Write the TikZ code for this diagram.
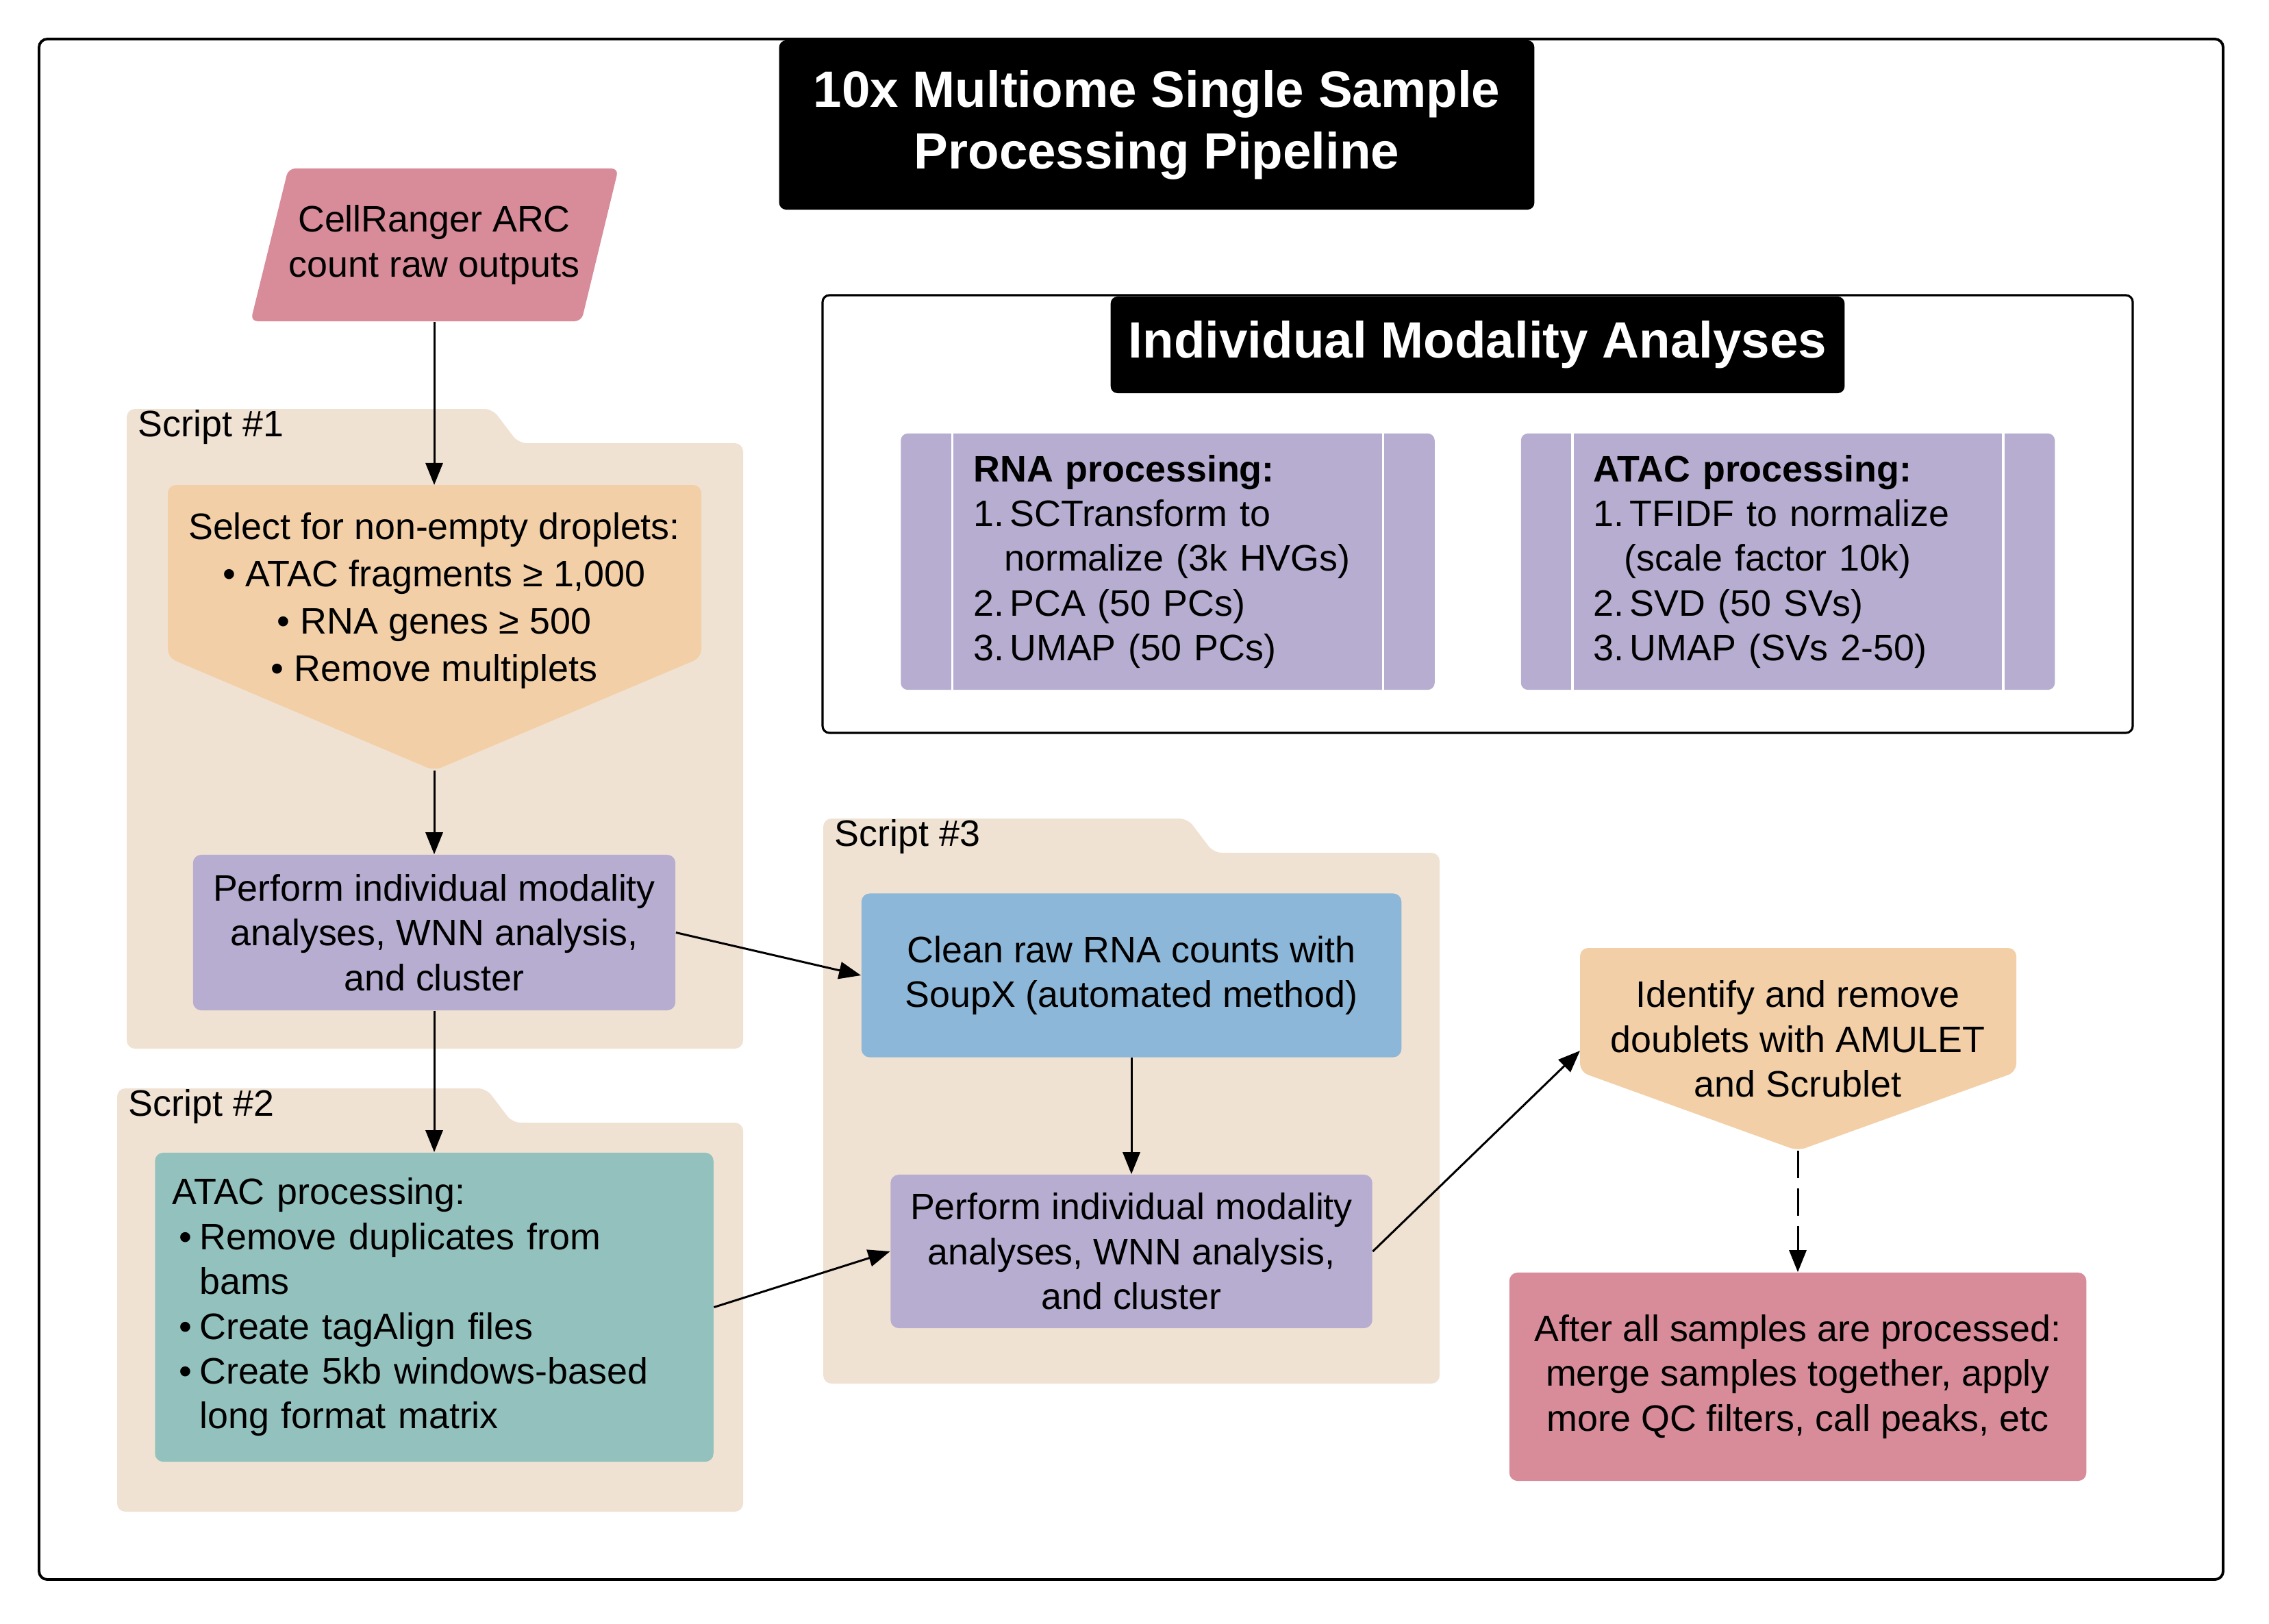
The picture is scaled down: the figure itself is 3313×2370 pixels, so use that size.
\documentclass[tikz,border=0pt]{standalone}
\usepackage{fontspec}
\setmainfont{Liberation Sans}
\usetikzlibrary{arrows.meta}

\definecolor{rosepink}{RGB}{216,139,152}
\definecolor{folderbeige}{RGB}{240,226,210}
\definecolor{peach}{RGB}{242,207,167}
\definecolor{lilac}{RGB}{183,173,209}
\definecolor{seagreen}{RGB}{147,194,190}
\definecolor{skyblue}{RGB}{141,183,216}

% folder: left, top, tab end, right, bottom, label
\newcommand{\scriptfolder}[6]{%
  \fill[folderbeige, rounded corners=1.2mm] (#1,#5) -- (#1,#2) -- (#3,#2) -- (#3+38,#2+50) -- (#4,#2+50) -- (#4,#5) -- cycle;
  \node[anchor=west, inner sep=0pt] at (#1+16,#2+27) {#6};}

\begin{document}
\begin{tikzpicture}[x=0.01cm, y=-0.01cm,
  every node/.style={font=\fontsize{15.3}{18.6}\selectfont},
  box/.style={rounded corners=1.2mm, inner sep=0pt, align=center},
  titlebox/.style={fill=black, text=white, rounded corners=1mm, inner sep=0pt, align=center,
    font=\fontsize{21.2}{25.8}\selectfont\bfseries},
  procbox/.style={fill=lilac, rounded corners=1mm, inner ysep=0pt, inner xsep=1.06cm,
    text width=5.67cm, minimum height=3.74cm, align=left},
  arr/.style={-{Triangle[length=3.2mm, width=2.5mm]}, line width=0.85pt}]

  \useasboundingbox (0,0) rectangle (3313,2370);
  \draw[line width=1.1pt, rounded corners=1.2mm] (57,57) rectangle (3246,2306);

  \node[titlebox, minimum width=11.02cm, minimum height=2.47cm] (title) at (1689,182.5)
    {10x Multiome Single Sample\\Processing Pipeline};

  % input
  \fill[rosepink, rounded corners=1mm] (366,469) -- (421,246) -- (903,246) -- (849,469) -- cycle;
  \node[box, minimum width=4.3cm, minimum height=2.23cm] (cr) at (634,357.5)
    {CellRanger ARC\\count raw outputs};

  % scripts
  \scriptfolder{185}{597}{719}{1085}{1531}{Script \#1}
  \scriptfolder{171}{1589}{710}{1085}{2207}{Script \#2}
  \scriptfolder{1202}{1195}{1734}{2102}{2020}{Script \#3}

  \fill[peach, rounded corners=1.2mm] (245,708) -- (1024,708) -- (1024,960) -- (634,1125) -- (245,960) -- cycle;
  \node[align=center, font=\fontsize{15.3}{19.6}\selectfont] (sel) at (634,877)
    {Select for non-empty droplets:\\• ATAC fragments ≥ 1,000\\• RNA genes ≥ 500\\• Remove multiplets};
  \coordinate (selTop) at (634,708);
  \coordinate (selTip) at (634,1125);

  \node[box, fill=lilac, minimum width=7.04cm, minimum height=2.27cm] (perf1) at (634,1361.5)
    {Perform individual modality\\analyses, WNN analysis,\\and cluster};

  \node[box, fill=seagreen, inner xsep=0.25cm, text width=7.65cm, minimum height=4.51cm, align=left] (atacprep) at (634,1908.5)
    {ATAC processing:\\
     \hspace*{0.1cm}\makebox[0.3cm][l]{•}Remove duplicates from\\
     \hspace*{0.4cm}bams\\
     \hspace*{0.1cm}\makebox[0.3cm][l]{•}Create tagAlign files\\
     \hspace*{0.1cm}\makebox[0.3cm][l]{•}Create 5kb windows-based\\
     \hspace*{0.4cm}long format matrix};

  \node[box, fill=skyblue, minimum width=7.88cm, minimum height=2.39cm] (clean) at (1652,1424)
    {Clean raw RNA counts with\\SoupX (automated method)};
  \node[box, fill=lilac, minimum width=7.03cm, minimum height=2.24cm] (perf2) at (1652,1827)
    {Perform individual modality\\analyses, WNN analysis,\\and cluster};

  \fill[peach, rounded corners=1.2mm] (2307,1384) -- (2944,1384) -- (2944,1565) -- (2625,1680) -- (2307,1565) -- cycle;
  \node[align=center] (dbl) at (2625,1517)
    {Identify and remove\\doublets with AMULET\\and Scrublet};
  \coordinate (dblIn) at (2307,1534);
  \coordinate (dblTip) at (2625,1680);

  \node[box, fill=rosepink, minimum width=8.42cm, minimum height=3.04cm] (final) at (2625,2010)
    {After all samples are processed:\\merge samples together, apply\\more QC filters, call peaks, etc};

  % modality analyses
  \draw[line width=0.9pt, rounded corners=1mm] (1201,431) rectangle (3114,1070);
  \node[titlebox, minimum width=10.71cm, minimum height=1.41cm] (modtitle) at (2157.5,503.5)
    {Individual Modality Analyses};

  \node[procbox] (rna) at (1705,820)
    {\textbf{RNA processing:}\\
     \makebox[0.53cm][l]{1.}SCTransform to\\
     \hspace*{0.45cm}normalize (3k HVGs)\\
     \makebox[0.53cm][l]{2.}PCA (50 PCs)\\
     \makebox[0.53cm][l]{3.}UMAP (50 PCs)};
  \node[procbox] (atac) at (2610.5,820)
    {\textbf{ATAC processing:}\\
     \makebox[0.53cm][l]{1.}TFIDF to normalize\\
     \hspace*{0.45cm}(scale factor 10k)\\
     \makebox[0.53cm][l]{2.}SVD (50 SVs)\\
     \makebox[0.53cm][l]{3.}UMAP (SVs 2-50)};
  \foreach \b in {rna, atac} {
    \draw[white, line width=1pt] ([xshift=0.76cm]\b.north west) -- ([xshift=0.76cm]\b.south west);
    \draw[white, line width=1pt] ([xshift=-0.76cm]\b.north east) -- ([xshift=-0.76cm]\b.south east);
  }

  % connectors
  \draw[arr] (cr.south) -- (selTop);
  \draw[arr] (selTip) -- (perf1.north);
  \draw[arr] (perf1.south) -- (atacprep.north);
  \draw[arr] (perf1.east) -- (clean.west);
  \draw[arr] (clean.south) -- (perf2.north);
  \draw[arr] (atacprep.east) -- (perf2.west);
  \draw[arr] (perf2.east) -- (dblIn);
  \draw[arr, dash pattern=on 0.4cm off 0.15cm] (dblTip) -- (final.north);
\end{tikzpicture}
\end{document}
